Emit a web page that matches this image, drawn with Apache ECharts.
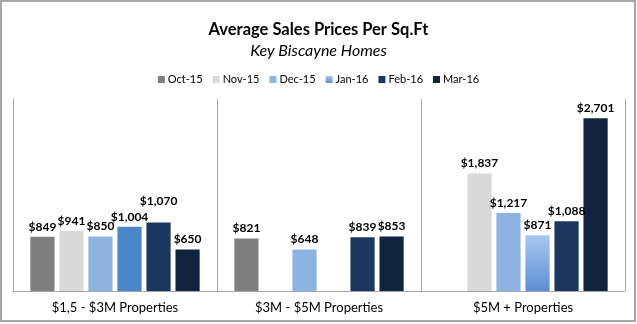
<!DOCTYPE html>
<html>
<head>
<meta charset="utf-8">
<script src="https://cdn.jsdelivr.net/npm/echarts@6/dist/echarts.min.js"></script>
<style>
  html, body { margin: 0; padding: 0; background: #fff; }
  #chart { width: 637px; height: 324px; }
</style>
</head>
<body>
<div id="chart"></div>
<script>
// Price bands (x categories)
const categories = ['$1,5 - $3M Properties', '$3M - $5M Properties', '$5M + Properties'];

// Monthly series names
const months = ['Oct-15', 'Nov-15', 'Dec-15', 'Jan-16', 'Feb-16', 'Mar-16'];

// Average price per sq.ft for each band, one array per month (null = no sales)
const oct15 = [849, 821, null];
const nov15 = [941, null, 1837];
const dec15 = [850, 648, 1217];
const jan16 = [1004, null, 871];
const feb16 = [1070, 839, 1088];
const mar16 = [650, 853, 2701];

const seriesValues = [oct15, nov15, dec15, jan16, feb16, mar16];

const FONT = 'Lato, "Open Sans", sans-serif';

const janGradient = new echarts.graphic.LinearGradient(0, 0, 0, 1, [
  { offset: 0, color: '#a9c8f4' },
  { offset: 1, color: '#5b8fd2' }
]);

const colors = ['#7f7f7f', '#d9d9d9', '#8db3e2', janGradient, '#1c375f', '#10243f'];

function fmt(v) {
  return '$' + v.toLocaleString('en-US');
}

const series = months.map((name, i) => ({
  name: name,
  type: 'bar',
  barGap: '20%',
  barCategoryGap: '17%',
  itemStyle: { color: colors[i] },
  label: {
    show: true,
    position: 'top',
    distance: 4,
    fontFamily: FONT,
    fontWeight: 'bold',
    fontSize: 12,
    color: '#000',
    formatter: p => (p.value == null ? '' : fmt(p.value))
  },
  data: seriesValues[i].map((v, j) => {
    const item = { value: v };
    // Jan-16 in the first band is drawn solid
    if (name === 'Jan-16' && j === 0) item.itemStyle = { color: '#4a86c8' };
    // lift the Feb-16 label in the first band clear of its neighbour
    if (name === 'Feb-16' && j === 0) item.label = { offset: [0, -11] };
    return item;
  })
}));

const GRID = { left: 13, right: 12, top: 99, bottom: 33 };

const chart = echarts.init(document.getElementById('chart'), null, { renderer: 'canvas' });
chart.setOption({
  animation: false,
  backgroundColor: '#fff',
  title: {
    text: 'Average Sales Prices Per Sq.Ft',
    subtext: 'Key Biscayne Homes',
    left: 'center',
    top: 16,
    itemGap: 5,
    textStyle: { fontFamily: FONT, fontWeight: 'bold', fontSize: 16.5, color: '#000' },
    subtextStyle: { fontFamily: FONT, fontStyle: 'italic', fontSize: 16, color: '#000' }
  },
  legend: {
    top: 69,
    left: 'center',
    itemWidth: 7,
    itemHeight: 7,
    itemGap: 10,
    icon: 'rect',
    textStyle: { fontFamily: FONT, fontSize: 11, color: '#000', padding: [0, 0, 0, -2] },
    data: months
  },
  grid: GRID,
  xAxis: {
    type: 'category',
    data: categories,
    axisLine: { show: true, lineStyle: { color: '#a6a6a6', width: 1 } },
    axisTick: { show: false },
    splitLine: { show: true, lineStyle: { color: '#a6a6a6', width: 1 } },
    axisLabel: { fontFamily: FONT, fontSize: 13, color: '#000', margin: 10 }
  },
  yAxis: {
    type: 'value',
    min: 0,
    max: 3000,
    axisLine: { show: true, lineStyle: { color: '#a6a6a6' } },
    axisLabel: { show: false },
    axisTick: { show: false },
    splitLine: { show: false }
  },
  graphic: [{
    // outer chart frame
    type: 'rect',
    shape: { x: 1, y: 1, width: 634, height: 320 },
    style: { fill: null, stroke: '#a6a6a6', lineWidth: 2 },
    silent: true
  }, {
    // right-hand edge of the plot area
    type: 'line',
    shape: { x1: 637 - GRID.right + 0.5, y1: GRID.top, x2: 637 - GRID.right + 0.5, y2: 324 - GRID.bottom },
    style: { stroke: '#a6a6a6', lineWidth: 1 },
    silent: true
  }],
  series: series
});
</script>
</body>
</html>
